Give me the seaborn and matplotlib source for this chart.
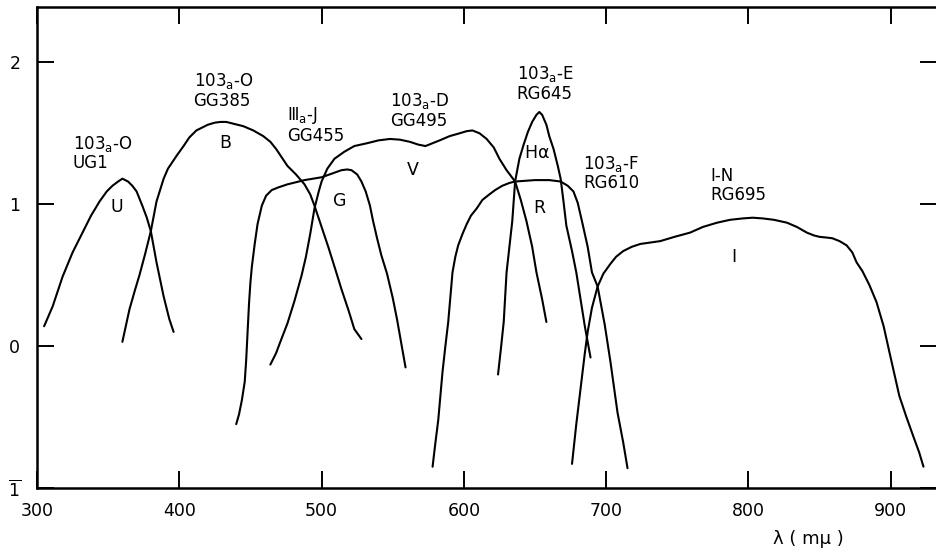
import matplotlib
matplotlib.use("Agg")
import matplotlib.pyplot as plt
import pandas as pd
import seaborn as sns

# Emulsion + filter response curves: wavelength (mμ) vs. log relative sensitivity
U_WL = [305, 311, 318, 325, 332, 338, 344, 349, 353, 357, 360, 364, 367, 370, 374,
        377, 380, 384, 389, 393, 396]
U_LOG = [0.14, 0.28, 0.49, 0.66, 0.80, 0.92, 1.02, 1.09, 1.13, 1.16, 1.18, 1.16,
         1.13, 1.09, 0.99, 0.91, 0.81, 0.59, 0.35, 0.19, 0.10]

B_WL = [360, 365, 369, 372, 376, 380, 384, 389, 392, 398, 403, 407, 412,
        416, 420, 425, 429, 433, 437, 441, 445, 452, 459, 464, 468, 472, 476, 482,
        488, 492, 495, 500, 505, 510, 514, 519, 523, 528]
B_LOG = [0.03, 0.26, 0.40, 0.50, 0.65, 0.81, 1.02, 1.18, 1.25, 1.34,
         1.41, 1.47, 1.52, 1.54, 1.56, 1.575, 1.58, 1.58, 1.57, 1.56, 1.55, 1.52,
         1.48, 1.44, 1.39, 1.33, 1.27, 1.21, 1.14, 1.07, 0.99, 0.84, 0.69, 0.53,
         0.40, 0.25, 0.12, 0.05]

G_WL = [440, 442, 444, 446, 447, 448, 449, 450, 451, 453, 455, 458, 461, 465, 470,
        476, 482, 488, 494, 500, 507, 514, 518, 521, 525, 528, 531, 534, 536, 539,
        542, 546, 550, 553, 556, 559]
G_LOG = [-0.55, -0.48, -0.38, -0.25, -0.10, 0.10, 0.30, 0.45, 0.56, 0.72, 0.86,
         0.99, 1.06, 1.10, 1.12, 1.14, 1.155, 1.17, 1.18, 1.19, 1.215, 1.24, 1.245,
         1.24, 1.21, 1.16, 1.09, 0.99, 0.89, 0.76, 0.64, 0.51, 0.34, 0.19, 0.02,
         -0.15]

V_WL = [464, 468, 471, 476, 481, 486, 489, 492, 495, 498, 500, 504, 509, 516, 523,
        532, 540, 548, 555, 562, 568, 573, 578, 583, 590, 597, 602, 606, 611, 616,
        621, 625, 630, 636, 640, 644, 648, 651, 655, 658]
V_LOG = [-0.13, -0.05, 0.03, 0.16, 0.32, 0.50, 0.63, 0.79, 0.97, 1.09, 1.16, 1.25,
         1.32, 1.37, 1.41, 1.43, 1.45, 1.46, 1.455, 1.44, 1.42, 1.41, 1.43, 1.45,
         1.48, 1.50, 1.515, 1.52, 1.50, 1.46, 1.40, 1.32, 1.24, 1.16, 1.03, 0.88,
         0.70, 0.52, 0.33, 0.17]

HA_WL = [624, 626, 628, 630, 632, 634, 636, 639, 642, 645, 648, 651, 653, 655, 658,
         660, 663, 666, 668, 670, 672, 676, 679, 682, 685, 689]
HA_LOG = [-0.20, -0.02, 0.17, 0.52, 0.70, 0.88, 1.16, 1.32, 1.42, 1.51, 1.58, 1.63,
          1.65, 1.63, 1.56, 1.48, 1.39, 1.27, 1.18, 1.02, 0.85, 0.67, 0.52, 0.33,
          0.14, -0.08]

R_WL = [578, 580, 582, 585, 587, 589, 592, 594, 596, 599, 602, 605, 609, 613, 618,
        622, 627, 632, 636, 643, 650, 655, 660, 664, 668, 673, 677, 680, 683, 687,
        690, 694, 699, 703, 708, 712, 715]
R_LOG = [-0.85, -0.68, -0.52, -0.18, 0.00, 0.17, 0.52, 0.63, 0.71, 0.79, 0.86, 0.92,
         0.97, 1.03, 1.07, 1.10, 1.13, 1.15, 1.16, 1.165, 1.17, 1.17, 1.17, 1.165,
         1.16, 1.13, 1.09, 1.01, 0.88, 0.70, 0.52, 0.42, 0.15, -0.11, -0.47, -0.68,
         -0.86]

I_WL = [676, 679, 682, 685, 687, 690, 694, 698, 703, 707, 712, 718, 724, 731, 738,
        748, 759, 768, 778, 787, 796, 803, 810, 818, 827, 834, 841, 846, 850, 855,
        859, 864, 869, 873, 876, 880, 885, 890, 895, 899, 906, 911, 916, 920, 923]
I_LOG = [-0.83, -0.55, -0.30, -0.05, 0.10, 0.27, 0.42, 0.51, 0.58, 0.63, 0.67, 0.70,
         0.72, 0.73, 0.74, 0.77, 0.80, 0.84, 0.87, 0.89, 0.90, 0.905, 0.90, 0.89,
         0.87, 0.84, 0.80, 0.78, 0.77, 0.765, 0.76, 0.74, 0.71, 0.66, 0.59, 0.53,
         0.43, 0.31, 0.14, -0.04, -0.35, -0.50, -0.64, -0.75, -0.85]

BAND_NAMES = ["U", "B", "G", "V", "Hα", "R", "I"]

# Band letters and emulsion/filter captions, placed in data coordinates
BAND_LABELS = ["U", "B", "G", "V", "H$\\alpha$", "R", "Ⅰ"]
BAND_LABEL_X = [356, 432, 513, 564, 651, 653, 790]
BAND_LABEL_Y = [0.98, 1.43, 1.02, 1.24, 1.36, 0.97, 0.63]

CAPTIONS = ["103$_{a}$-O\nUG1", "103$_{a}$-O\nGG385", "Ⅲ$_{a}$-J\nGG455",
            "103$_{a}$-D\nGG495", "103$_{a}$-E\nRG645", "103$_{a}$-F\nRG610",
            "Ⅰ-N\nRG695"]
CAPTION_X = [325, 410, 476, 548, 637, 684, 773]
CAPTION_Y = [1.36, 1.80, 1.56, 1.66, 1.85, 1.22, 1.13]

X_TICKS = [300, 400, 500, 600, 700, 800, 900]
Y_TICKS = [-1, 0, 1, 2]
Y_TICK_LABELS = ["$\\overline{1}$", "0", "1", "2"]

curves = [(U_WL, U_LOG), (B_WL, B_LOG), (G_WL, G_LOG), (V_WL, V_LOG),
          (HA_WL, HA_LOG), (R_WL, R_LOG), (I_WL, I_LOG)]
frames = []
for name, (wl, val) in zip(BAND_NAMES, curves):
    frames.append(pd.DataFrame({"band": name, "wavelength": wl, "log_s": val}))
df = pd.concat(frames, ignore_index=True)

sns.set_theme(style="ticks")
plt.rcParams["font.family"] = ["DejaVu Sans"]
plt.rcParams["mathtext.fontset"] = "dejavusans"
plt.rcParams["mathtext.default"] = "regular"

fig = plt.figure(figsize=(9.36, 5.5), dpi=100)
ax = fig.add_axes([37 / 936, 62 / 550, 900 / 936, 481 / 550])

sns.lineplot(data=df, x="wavelength", y="log_s", units="band", estimator=None,
             sort=False, color="black", linewidth=1.5, ax=ax,
             solid_joinstyle="round")

ax.set_xlim(300, 932.5)
ax.set_ylim(-1, 2.39)
ax.set_xticks(X_TICKS)
ax.set_xticklabels([str(t) for t in X_TICKS])
ax.set_yticks(Y_TICKS)
ax.set_yticklabels(Y_TICK_LABELS, ha="center")

for side in ["left", "right", "top", "bottom"]:
    ax.spines[side].set_visible(True)
    ax.spines[side].set_linewidth(1.8)
    ax.spines[side].set_color("black")

ax.tick_params(axis="both", direction="in", length=12, width=1.4, color="black",
               top=True, right=True, labelsize=12.5, labelcolor="black")
ax.tick_params(axis="x", pad=10)
ax.tick_params(axis="y", pad=16)

ax.set_xlabel("λ ( mμ )", fontsize=13, color="black")
ax.xaxis.set_label_coords(0.857, -0.087)
ax.set_ylabel("")

for text, x, y in zip(BAND_LABELS, BAND_LABEL_X, BAND_LABEL_Y):
    ax.text(x, y, text, ha="center", va="center", fontsize=12.5, color="black")

for text, x, y in zip(CAPTIONS, CAPTION_X, CAPTION_Y):
    ax.text(x, y, text, ha="left", va="center", fontsize=12, color="black",
            linespacing=1.05)

fig.savefig("out.png", dpi=100, facecolor="white")
